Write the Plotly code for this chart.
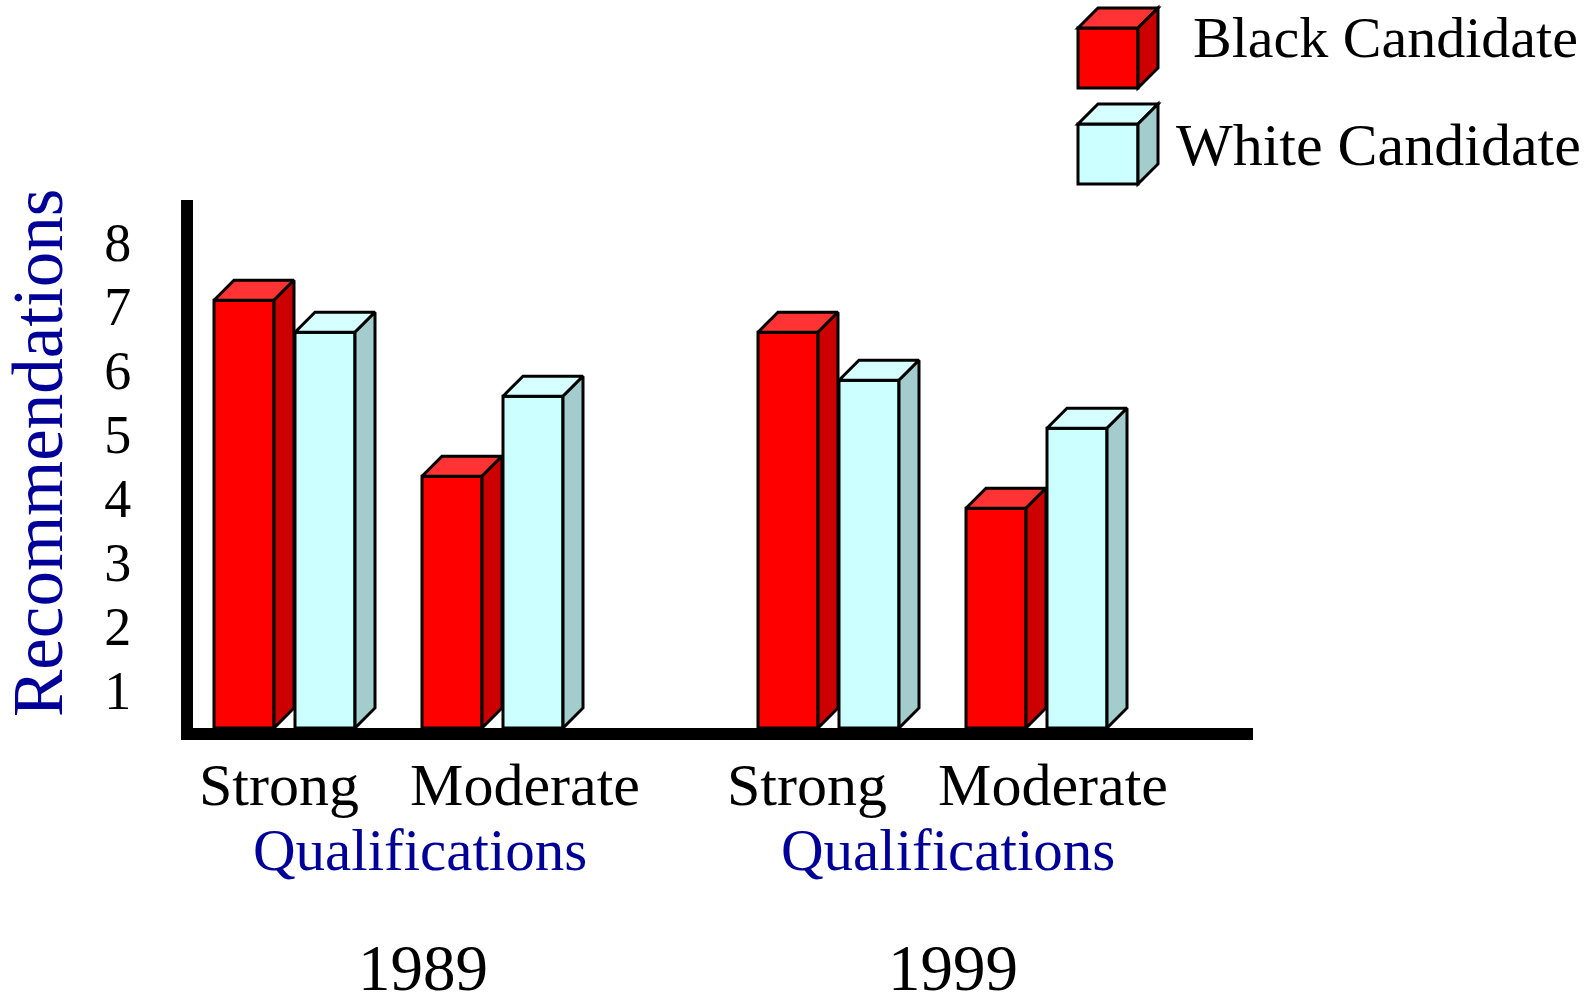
import plotly.graph_objects as go

# values, against the printed 1-8 scale
qualifications = ["Strong", "Moderate", "Strong", "Moderate"]
black_candidate = [7.09, 4.34, 6.59, 3.84]
white_candidate = [6.59, 5.59, 5.84, 5.09]
y_ticks = [1, 2, 3, 4, 5, 6, 7, 8]
years = ["1989", "1999"]

FONT = "Liberation Serif"
BLUE = "#000099"
RED = dict(front="#FF0000", top="#FF3333", side="#CC0000")
CYAN = dict(front="#CCFFFF", top="#D6FFFF", side="#A3CCCC")

W, H = 1592, 996
LEFT, RIGHT, TOP, BOTTOM = 193, 1253, 200, 728
SLOT = 81  # px per bar slot
FIRST = 214
Y_FLOOR, Y_CEIL = 0.406, 8.656
PX_PER_Y = (BOTTOM - TOP) / (Y_CEIL - Y_FLOOR)
DEPTH = 20


def slot(px):
    return (px - FIRST) / SLOT


def paper_x(px):
    return (px - LEFT) / (RIGHT - LEFT)


def paper_y(py):
    return (BOTTOM - py) / (BOTTOM - TOP)


group_left = [slot(214), slot(422), slot(758), slot(966)]
bar_w = 60 / SLOT
dx = DEPTH / SLOT
dy = DEPTH / PX_PER_Y

fig = go.Figure()


def add_bars(name, values, colors, shift):
    lefts = [g + shift for g in group_left]
    fig.add_trace(go.Bar(
        name=name,
        x=[l + bar_w / 2 for l in lefts],
        y=[v - Y_FLOOR for v in values],
        base=Y_FLOOR,
        width=bar_w,
        marker=dict(color=colors["front"], line=dict(color="black", width=3)),
        showlegend=False,
        hoverinfo="skip",
    ))
    for l, v in zip(lefts, values):
        r = l + bar_w
        # top face
        fig.add_trace(go.Scatter(
            x=[l, l + dx, r + dx, r, l],
            y=[v, v + dy, v + dy, v, v],
            fill="toself", fillcolor=colors["top"], mode="lines",
            line=dict(color="black", width=3),
            showlegend=False, hoverinfo="skip",
        ))
        # side face
        fig.add_trace(go.Scatter(
            x=[r, r + dx, r + dx, r, r],
            y=[v, v + dy, Y_FLOOR + dy, Y_FLOOR, v],
            fill="toself", fillcolor=colors["side"], mode="lines",
            line=dict(color="black", width=3),
            showlegend=False, hoverinfo="skip",
        ))


add_bars("Black Candidate", black_candidate, RED, 0)
add_bars("White Candidate", white_candidate, CYAN, 1)

# legend cubes, drawn by hand since the built-in legend has no such key
shapes = []


def cube(x0, y0, colors):
    x1, y1 = x0 + 60, y0 + 60
    faces = [
        ([(x0, y0), (x1, y0), (x1, y1), (x0, y1)], colors["front"]),
        ([(x0, y0), (x0 + DEPTH, y0 - DEPTH), (x1 + DEPTH, y0 - DEPTH), (x1, y0)], colors["top"]),
        ([(x1, y0), (x1 + DEPTH, y0 - DEPTH), (x1 + DEPTH, y1 - DEPTH), (x1, y1)], colors["side"]),
    ]
    for pts, col in faces:
        path = "M " + " L ".join(f"{paper_x(a):.5f} {paper_y(b):.5f}" for a, b in pts) + " Z"
        shapes.append(dict(type="path", xref="paper", yref="paper", path=path,
                           fillcolor=col, line=dict(color="black", width=3)))


cube(1078, 28, RED)
cube(1078, 124, CYAN)


def label(text, px, py, size, color="black", anchor="center", angle=0):
    return dict(text=text, x=paper_x(px), y=paper_y(py), xref="paper", yref="paper",
                showarrow=False, xanchor=anchor, yanchor="middle", textangle=angle,
                font=dict(family=FONT, size=size, color=color))


annotations = [
    label("Black Candidate", 1580, 38, 58, anchor="right"),
    label("White Candidate", 1583, 145, 60, anchor="right"),
    label("Qualifications", 420, 850, 59, BLUE),
    label("Qualifications", 948, 850, 59, BLUE),
    label(years[0], 423, 968, 65),
    label(years[1], 953, 968, 65),
    label("Recommendations", 38, 453, 71, BLUE, angle=-90),
]

fig.update_layout(
    width=W, height=H,
    margin=dict(l=LEFT, r=W - RIGHT, t=TOP, b=H - BOTTOM, pad=0),
    paper_bgcolor="white", plot_bgcolor="white",
    barmode="overlay",
    shapes=shapes,
    annotations=annotations,
    showlegend=False,
    xaxis=dict(
        range=[slot(LEFT), slot(RIGHT)],
        tickmode="array",
        tickvals=[slot(p) for p in (279, 525, 807, 1053)],
        ticktext=qualifications,
        tickfont=dict(family=FONT, size=60, color="black"),
        ticks="", showgrid=False, zeroline=False,
        showline=True, linecolor="black", linewidth=12,
        ticklabelstandoff=-7,
    ),
    yaxis=dict(
        range=[Y_FLOOR, Y_CEIL],
        tickmode="array",
        tickvals=y_ticks,
        ticktext=[str(t) for t in y_ticks],
        tickfont=dict(family=FONT, size=54, color="black"),
        ticks="", showgrid=False, zeroline=False,
        showline=True, linecolor="black", linewidth=12,
        ticklabelstandoff=39,
    ),
)

fig.write_html("out.html", config=dict(displayModeBar=False),
               post_script="document.body.style.margin='0';")
